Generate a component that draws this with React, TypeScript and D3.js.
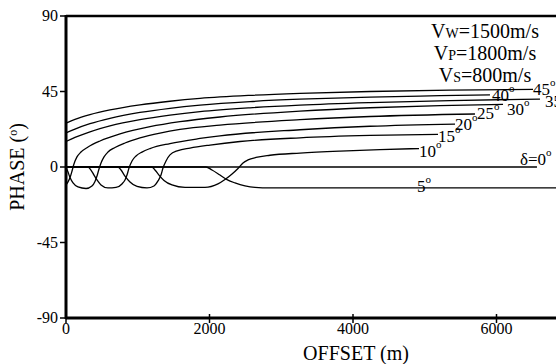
import React from 'react';
import * as d3 from 'd3';

const xTicks = [0, 2000, 4000, 6000];
const yTicks = [-90, -45, 0, 45, 90];

const d45Off = [0, 125, 334, 613, 1031, 1449, 1868, 2564, 3261, 4237, 5352, 6509];
const d45Ph = [26.2, 28.4, 31.2, 34.0, 37.0, 39.2, 40.9, 42.7, 43.9, 45.0, 45.8, 46.3];

const d40Off = [0, 125, 334, 613, 1031, 1449, 1868, 2564, 3261, 4237, 5213, 5909];
const d40Ph = [20.3, 22.6, 25.8, 29.0, 32.5, 35.0, 36.9, 39.0, 40.4, 41.7, 42.5, 43.0];

const d35Off = [0, 125, 334, 613, 1031, 1449, 1868, 2564, 3261, 4237, 5352, 6606];
const d35Ph = [15.2, 17.6, 21.0, 24.5, 28.2, 30.9, 33.0, 35.3, 36.9, 38.4, 39.6, 40.5];

const d30Off = [0, 28, 56, 84, 111, 153, 209, 307, 474, 753, 1171, 1589, 2146, 3261, 4237, 5213, 6091];
const d30Ph = [-10.7, -8.9, -6.3, -2.4, 1.8, 6.0, 8.9, 11.9, 15.5, 19.7, 24.0, 27.0, 29.8, 33.3, 35.3, 36.6, 37.3];

const d25Off = [0, 28, 56, 98, 167, 279, 362, 404, 432, 460, 488, 530, 585, 683, 822, 1031, 1310, 1589, 2146, 3261, 4237, 5700];
const d25Ph = [0, -3.0, -6.3, -9.5, -11.9, -12.8, -11.3, -8.6, -5.4, -1.2, 2.4, 6.0, 8.9, 11.6, 14.3, 17.3, 20.2, 22.4, 25.0, 28.2, 30.1, 31.6];

const d20Off = [0, 307, 348, 390, 432, 488, 585, 697, 780, 822, 850, 878, 920, 976, 1059, 1171, 1449, 1868, 2146, 3261, 4237, 5422];
const d20Ph = [0, 0, -1.8, -4.8, -7.7, -10.7, -12.5, -12.2, -10.1, -7.7, -4.8, -0.6, 3.6, 6.6, 8.9, 11.0, 14.0, 17.0, 18.6, 22.2, 24.3, 25.6];

const d15Off = [0, 725, 767, 822, 892, 990, 1129, 1226, 1282, 1324, 1352, 1394, 1449, 1561, 1728, 2007, 2425, 3261, 4237, 5185];
const d15Ph = [0, 0, -1.8, -5.4, -8.9, -11.6, -12.5, -11.3, -8.3, -4.8, -0.6, 3.6, 7.2, 9.8, 11.3, 13.1, 15.2, 17.4, 18.8, 19.5];

const d10Off = [0, 1199, 1240, 1296, 1366, 1477, 1659, 1937, 2118, 2216, 2314, 2397, 2467, 2537, 2648, 2843, 3261, 3819, 4376, 4920];
const d10Ph = [0, 0, -1.8, -4.8, -8.0, -10.7, -12.2, -12.2, -10.1, -7.5, -4.2, -0.9, 2.4, 4.2, 5.7, 7.0, 8.3, 9.5, 10.4, 11.0];

const d5Off = [0, 1951, 2035, 2146, 2244, 2355, 2495, 2634, 2843, 4655, 8000];
const d5Ph = [0, 0, -1.8, -4.8, -7.5, -9.5, -11.3, -12.2, -12.5, -12.5, -12.5];

const d0Off = [0, 6564];
const d0Ph = [0, 0];

// label anchors (offset m, phase deg) and texts
const labelTexts = ['45', '40', '35', '30', '25', '20', '15', '10', 'δ=0', '5'];
const labelOff = [6509, 5937, 6676, 6146, 5728, 5422, 5185, 4920, 6327, 4892];
const labelPh = [42.9, 39.3, 35.8, 31.0, 28.6, 22.1, 14.9, 6.0, 1.2, -14.9];

const velMain = ['V', 'V', 'V'];
const velSub = ['W', 'P', 'S'];
const velRest = ['=1500m/s', '=1800m/s', '=800m/s'];

const series = [
  [d45Off, d45Ph], [d40Off, d40Ph], [d35Off, d35Ph], [d30Off, d30Ph], [d25Off, d25Ph],
  [d20Off, d20Ph], [d15Off, d15Ph], [d10Off, d10Ph], [d5Off, d5Ph], [d0Off, d0Ph],
];

export default function App() {
  const W = 556, H = 364;
  const x = d3.scaleLinear().domain([0, 8000]).range([66, 640]);
  const y = d3.scaleLinear().domain([-90, 90]).range([318, 16]);
  const line = d3.line<[number, number]>().x(d => x(d[0])).y(d => y(d[1])).curve(d3.curveMonotoneX);
  const font = '"Liberation Serif", "Times New Roman", serif';

  return (
    <svg width={W} height={H} style={{ position: 'absolute', left: 0, top: 0, background: '#fff' }} fontFamily={font}>
      {series.map(([o, p], i) => (
        <path key={i} d={line(o.map((v, j) => [v, p[j]]) as [number, number][]) || ''} fill="none" stroke="#000" strokeWidth={1.3} />
      ))}
      {/* frame */}
      <line x1={x(0)} x2={W} y1={y(90)} y2={y(90)} stroke="#000" strokeWidth={2.5} />
      <line x1={x(0)} x2={W} y1={y(-90)} y2={y(-90)} stroke="#000" strokeWidth={3} />
      <line x1={x(0)} x2={x(0)} y1={y(90) - 1} y2={y(-90) + 1} stroke="#000" strokeWidth={3} />
      {yTicks.map(t => (
        <g key={t}>
          <line x1={x(0) - 6} x2={x(0)} y1={y(t)} y2={y(t)} stroke="#000" strokeWidth={1.5} />
          <text x={x(0) - 8} y={y(t) + 5} fontSize={16} textAnchor="end">{t}</text>
        </g>
      ))}
      {xTicks.map(t => (
        <g key={t}>
          <line x1={x(t)} x2={x(t)} y1={y(-90) - 4} y2={y(-90) + 5} stroke="#000" strokeWidth={1.5} />
          <text x={x(t)} y={y(-90) + 16} fontSize={16} textAnchor="middle">{t}</text>
        </g>
      ))}
      <text x={356} y={360} fontSize={20} textAnchor="middle">OFFSET (m)</text>
      <text transform={`translate(24,${y(0)}) rotate(-90)`} fontSize={20} textAnchor="middle">
        PHASE (<tspan fontSize={12} dy={-7}>o</tspan><tspan dy={7}>)</tspan>
      </text>
      {velMain.map((v, i) => (
        <text key={i} x={485} y={38 + i * 22} fontSize={20} textAnchor="middle">
          {v}<tspan fontSize={14}>{velSub[i]}</tspan>{velRest[i]}
        </text>
      ))}
      {labelTexts.map((t, i) => (
        <text key={t} x={x(labelOff[i])} y={y(labelPh[i])} fontSize={17}>
          {t}<tspan fontSize={11} dy={-9}>o</tspan>
        </text>
      ))}
    </svg>
  );
}
